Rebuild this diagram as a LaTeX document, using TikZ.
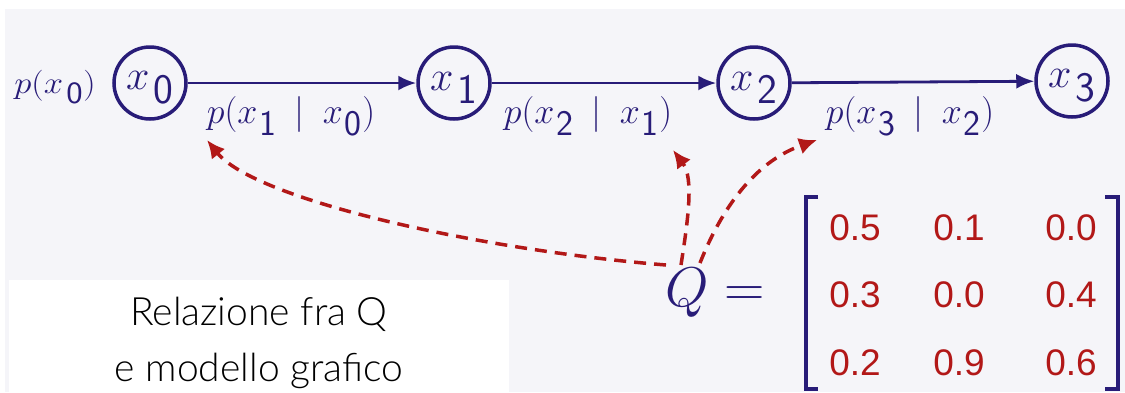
\RequirePackage{fix-cm}
\documentclass[tikz,border=0pt]{standalone}
\usepackage{graphicx}
\usepackage{fontspec}
\usetikzlibrary{arrows.meta}
\newfontfamily\numfont{Liberation Sans}
\newfontfamily\capfont{Lato Light}
\definecolor{navy}{RGB}{40,28,120}
\definecolor{dred}{RGB}{178,24,24}
\definecolor{bgc}{RGB}{245,245,249}
\newcommand\mysub[2][2pt]{_{\kern#1\textstyle\mathsf{#2}}}
\newcommand\lowtext[1]{\raisebox{-5pt}[\height][\depth]{#1}}
\begin{document}
\begin{tikzpicture}[x=1pt,y=-1pt,
  state/.style={circle, draw=navy, line width=3.5pt, minimum size=72pt, inner sep=0pt, text=navy, font=\fontsize{42}{42}\selectfont},
  elab/.style={text=navy, inner sep=0pt, font=\fontsize{36}{36}\selectfont},
  arr/.style={draw=navy, line width=2.8pt, -{Latex[length=18pt,width=15pt]}},
  qarr/.style={draw=dred, line width=3.5pt, dash pattern=on 12pt off 8pt, -{Latex[length=18pt,width=17pt]}},
  num/.style={text=dred, inner sep=0pt, font=\numfont\fontsize{37}{37}\selectfont},
  brk/.style={draw=navy, line width=3.5pt}
]
\useasboundingbox (0,0) rectangle (1125,392);
\fill[white] (0,0) rectangle (1125,392);
\fill[bgc] (5,9) rectangle (1125,392);
\fill[white] (9,280) rectangle (509,392);

% chain
\node[state] (x0) at (150,83) {\lowtext{$x\mysub[4pt]{0}$}};
\node[state] (x1) at (454,83) {\lowtext{$x\mysub[4pt]{1}$}};
\node[state] (x2) at (754,83) {\lowtext{$x\mysub[4pt]{2}$}};
\node[state] (x3) at (1072,81) {\lowtext{$x\mysub[4pt]{3}$}};
\node[text=navy, inner sep=0pt, font=\fontsize{31}{31}\selectfont] (px0) at (55,87) {\scalebox{1.12}[1]{$p(x\mysub[3pt]{0})$}};

\draw[arr] (x0) -- (x1);
\draw[arr] (x1) -- (x2);
\draw[arr] (x2) -- (x3);

\node[elab] (l1) at (291,116) {$p(x\mysub{1}\:\mid\:x\mysub{0})$};
\node[elab] (l2) at (588,116) {$p(x\mysub{2}\:\mid\:x\mysub{1})$};
\node[elab] (l3) at (910,116) {$p(x\mysub{3}\:\mid\:x\mysub{2})$};

% matrix
\node[text=navy, inner sep=0pt, font=\fontsize{56}{56}\selectfont] (Q) at (715,293) {$Q=$};
\draw[brk] (818,197) -- (806,197) -- (806,389) -- (818,389);
\draw[brk] (1105,197) -- (1118,197) -- (1118,389) -- (1105,389);
\node[num] (m11) at (855,228) {0.5};
\node[num] (m12) at (959,228) {0.1};
\node[num] (m13) at (1071,228) {0.0};
\node[num] (m21) at (855,295) {0.3};
\node[num] (m22) at (959,295) {0.0};
\node[num] (m23) at (1071,295) {0.4};
\node[num] (m31) at (855,363) {0.2};
\node[num] (m32) at (959,363) {0.9};
\node[num] (m33) at (1071,363) {0.6};

% dashed links
\coordinate (qa) at (666,265);
\coordinate (qb) at (681,265);
\coordinate (qc) at (700,263);
\coordinate (t1) at (207,140);
\coordinate (t2) at (673,150);
\coordinate (t3) at (817,140);
\draw[qarr] (qa) .. controls (480,250) and (255,200) .. (t1);
\draw[qarr] (qb) .. controls (688,220) and (694,178) .. (t2);
\draw[qarr] (qc) .. controls (725,200) and (760,160) .. (t3);

% caption
\node[align=center, inner sep=0pt, font=\capfont\fontsize{39}{56}\selectfont, text=black] (cap) at (259,343) {Relazione fra Q\\e modello grafico};
\end{tikzpicture}
\end{document}
